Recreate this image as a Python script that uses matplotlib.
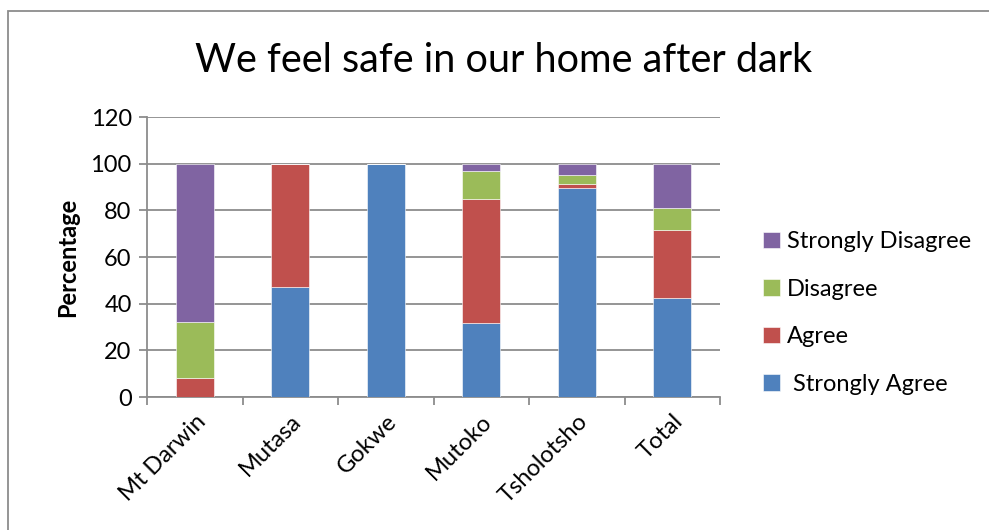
import numpy as np
import matplotlib.pyplot as plt
from matplotlib.patches import Rectangle

# Survey responses (%) per district
districts = ["Mt Darwin", "Mutasa", "Gokwe", "Mutoko", "Tsholotsho", "Total"]
strongly_agree = [0.0, 47.0, 100.0, 31.6, 89.7, 42.3]
agree = [8.1, 53.0, 0.0, 53.3, 1.6, 29.3]
disagree = [24.0, 0.0, 0.0, 11.8, 3.7, 9.4]
strongly_disagree = [67.9, 0.0, 0.0, 3.3, 5.0, 19.0]

series = [
    (" Strongly Agree", strongly_agree, "#4F81BD"),
    ("Agree", agree, "#C0504D"),
    ("Disagree", disagree, "#9BBB59"),
    ("Strongly Disagree", strongly_disagree, "#8064A2"),
]

plt.rcParams["font.family"] = ["Lato", "DejaVu Sans"]

fig = plt.figure(figsize=(9.89, 5.30), dpi=100)
ax = fig.add_axes([147 / 989, 133 / 530, 573 / 989, 280 / 530])

x = np.arange(len(districts))
bottom = np.zeros(len(districts))
handles = []
for label, vals, color in series:
    h = ax.bar(x, vals, width=0.4, bottom=bottom, color=color, label=label,
               edgecolor="white", linewidth=0.4, zorder=3)
    handles.append(h)
    bottom += np.array(vals)

ax.set_xlim(-0.5, len(districts) - 0.5)
ax.set_ylim(0, 120)
ax.set_yticks(np.arange(0, 121, 20))
ax.yaxis.grid(True, color="#8c8c8c", linewidth=1.3, zorder=0)
ax.set_axisbelow(True)

# category ticks sit between bars, labels under each bar
ax.set_xticks(np.arange(-0.5, len(districts), 1.0))
ax.set_xticklabels([])
ax.set_xticks(x, minor=True)
ax.set_xticklabels(districts, minor=True, rotation=45, ha="right",
                   rotation_mode="anchor", fontsize=17)
ax.tick_params(axis="x", which="minor", length=0, pad=10)
ax.tick_params(axis="x", which="major", length=6, color="#8c8c8c", width=1.3)
ax.tick_params(axis="y", length=6, color="#8c8c8c", width=1.3, labelsize=17, pad=5)

for side in ["top", "right"]:
    ax.spines[side].set_visible(False)
for side in ["left", "bottom"]:
    ax.spines[side].set_color("#8c8c8c")
    ax.spines[side].set_linewidth(1.3)

ax.set_ylabel("Percentage", fontsize=17, fontweight="bold", labelpad=8)

fig.text(504 / 989, 1 - 60 / 530, "We feel safe in our home after dark",
         ha="center", va="center", fontsize=28.5)

fig.legend(handles[::-1], [s[0] for s in series][::-1],
           loc="center left", bbox_to_anchor=(742 / 989, 1 - 313 / 530),
           frameon=False, fontsize=17, handlelength=0.7, handleheight=0.7,
           labelspacing=1.12, handletextpad=0.3)

# outer chart frame
fig.patches.append(Rectangle((8 / 989, -0.1), 1.1, 1.1 - 11 / 530,
                             transform=fig.transFigure, fill=False,
                             edgecolor="#8c8c8c", linewidth=1.3))

fig.savefig("out.png", dpi=100)
